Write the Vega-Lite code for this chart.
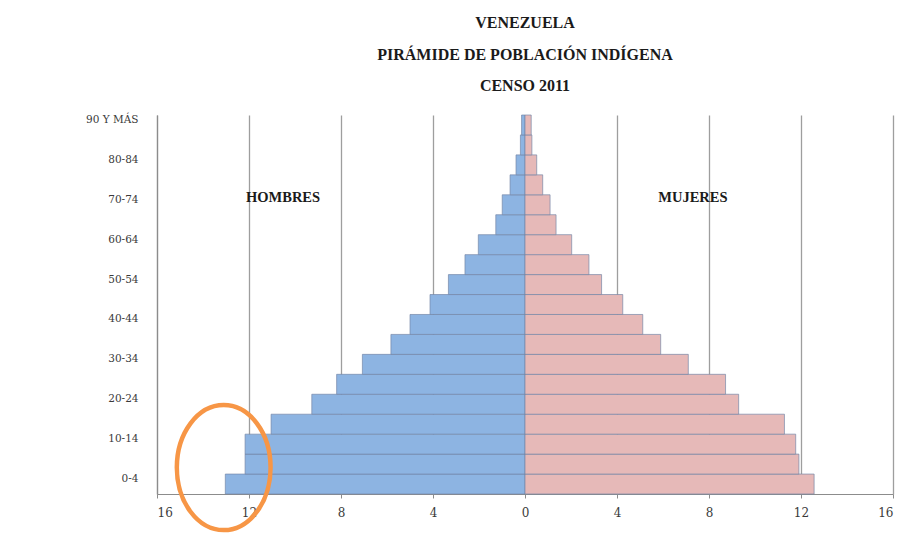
{
  "$schema": "https://vega.github.io/schema/vega-lite/v6.json",
  "autosize": {"type": "none"},
  "width": 736,
  "height": 379,
  "padding": {"left": 157, "top": 115, "right": 24, "bottom": 61},
  "background": "white",
  "title": {
    "text": ["VENEZUELA", "PIRÁMIDE DE POBLACIÓN INDÍGENA", "CENSO 2011"],
    "font": "Liberation Serif",
    "fontSize": 16,
    "fontWeight": "bold",
    "color": "#1a1a1a",
    "lineHeight": 31.5,
    "anchor": "middle",
    "offset": 20
  },
  "datasets": {
    "pop": [
      {"edad": "0-4", "sexo": "Hombres", "pct": -13.03},
      {"edad": "5-9", "sexo": "Hombres", "pct": -12.17},
      {"edad": "10-14", "sexo": "Hombres", "pct": -12.17},
      {"edad": "15-19", "sexo": "Hombres", "pct": -11.04},
      {"edad": "20-24", "sexo": "Hombres", "pct": -9.27},
      {"edad": "25-29", "sexo": "Hombres", "pct": -8.19},
      {"edad": "30-34", "sexo": "Hombres", "pct": -7.07},
      {"edad": "35-39", "sexo": "Hombres", "pct": -5.83},
      {"edad": "40-44", "sexo": "Hombres", "pct": -5.0},
      {"edad": "45-49", "sexo": "Hombres", "pct": -4.13},
      {"edad": "50-54", "sexo": "Hombres", "pct": -3.33},
      {"edad": "55-59", "sexo": "Hombres", "pct": -2.61},
      {"edad": "60-64", "sexo": "Hombres", "pct": -2.03},
      {"edad": "65-69", "sexo": "Hombres", "pct": -1.27},
      {"edad": "70-74", "sexo": "Hombres", "pct": -0.99},
      {"edad": "75-79", "sexo": "Hombres", "pct": -0.65},
      {"edad": "80-84", "sexo": "Hombres", "pct": -0.39},
      {"edad": "85-89", "sexo": "Hombres", "pct": -0.2},
      {"edad": "90 Y MÁS", "sexo": "Hombres", "pct": -0.15},
      {"edad": "0-4", "sexo": "Mujeres", "pct": 12.57},
      {"edad": "5-9", "sexo": "Mujeres", "pct": 11.91},
      {"edad": "10-14", "sexo": "Mujeres", "pct": 11.77},
      {"edad": "15-19", "sexo": "Mujeres", "pct": 11.28},
      {"edad": "20-24", "sexo": "Mujeres", "pct": 9.29},
      {"edad": "25-29", "sexo": "Mujeres", "pct": 8.72},
      {"edad": "30-34", "sexo": "Mujeres", "pct": 7.1},
      {"edad": "35-39", "sexo": "Mujeres", "pct": 5.9},
      {"edad": "40-44", "sexo": "Mujeres", "pct": 5.12},
      {"edad": "45-49", "sexo": "Mujeres", "pct": 4.25},
      {"edad": "50-54", "sexo": "Mujeres", "pct": 3.33},
      {"edad": "55-59", "sexo": "Mujeres", "pct": 2.78},
      {"edad": "60-64", "sexo": "Mujeres", "pct": 2.03},
      {"edad": "65-69", "sexo": "Mujeres", "pct": 1.35},
      {"edad": "70-74", "sexo": "Mujeres", "pct": 1.09},
      {"edad": "75-79", "sexo": "Mujeres", "pct": 0.77},
      {"edad": "80-84", "sexo": "Mujeres", "pct": 0.51},
      {"edad": "85-89", "sexo": "Mujeres", "pct": 0.3},
      {"edad": "90 Y MÁS", "sexo": "Mujeres", "pct": 0.27}
    ],
    "etiquetas": [
      {"texto": "HOMBRES", "x": -10.52, "edad": "70-74"},
      {"texto": "MUJERES", "x": 7.3, "edad": "70-74"}
    ],
    "marca": [
      {"x": -13.1, "edad": "5-9"}
    ]
  },
  "config": {
    "view": {"stroke": null},
    "axis": {"labelFont": "DejaVu Serif", "titleFont": "DejaVu Serif"}
  },
  "layer": [
    {
      "data": {"name": "pop"},
      "mark": {"type": "bar", "stroke": "#7485a6", "strokeWidth": 0.8, "strokeOpacity": 0.85},
      "encoding": {
        "y": {
          "field": "edad",
          "type": "nominal",
          "scale": {
            "domain": ["90 Y MÁS", "85-89", "80-84", "75-79", "70-74", "65-69", "60-64", "55-59", "50-54", "45-49", "40-44", "35-39", "30-34", "25-29", "20-24", "15-19", "10-14", "5-9", "0-4"],
            "paddingInner": 0,
            "paddingOuter": 0
          },
          "axis": {
            "title": null,
            "values": ["0-4", "10-14", "20-24", "30-34", "40-44", "50-54", "60-64", "70-74", "80-84", "90 Y MÁS"],
            "ticks": false,
            "domain": true,
            "domainColor": "#8c8c8c",
            "domainWidth": 1.2,
            "labelFontSize": 10.5,
            "labelColor": "#3a3a3a",
            "labelPadding": 19,
            "labelOffset": -5
          }
        },
        "x": {
          "field": "pct",
          "type": "quantitative",
          "scale": {"domain": [-16, 16], "nice": false},
          "axis": {
            "title": null,
            "values": [-16, -12, -8, -4, 0, 4, 8, 12, 16],
            "labelExpr": "abs(datum.value)",
            "grid": true,
            "gridColor": "#9e9e9e",
            "gridWidth": 1.3,
            "domainColor": "#8c8c8c",
            "domainWidth": 1.2,
            "tickColor": "#8c8c8c",
            "tickSize": 4,
            "labelFontSize": 12,
            "labelColor": "#3a3a3a",
            "labelPadding": 9
          }
        },
        "color": {
          "field": "sexo",
          "type": "nominal",
          "scale": {"domain": ["Hombres", "Mujeres"], "range": ["#8db4e2", "#e6b9b8"]},
          "legend": null
        }
      }
    },
    {
      "data": {"name": "etiquetas"},
      "mark": {"type": "text", "font": "Liberation Serif", "fontWeight": "bold", "fontSize": 14.5, "color": "#1a1a1a", "dy": -7},
      "encoding": {
        "x": {"field": "x", "type": "quantitative"},
        "y": {"field": "edad", "type": "nominal"},
        "text": {"field": "texto"}
      }
    },
    {
      "data": {"name": "marca"},
      "mark": {
        "type": "point",
        "shape": "M -0.75 0 A 0.75 1 0 1 0 0.75 0 A 0.75 1 0 1 0 -0.75 0 Z",
        "filled": false,
        "stroke": "#f79646",
        "strokeWidth": 4.5,
        "opacity": 1,
        "size": 15625,
        "yOffset": 3.5
      },
      "encoding": {
        "x": {"field": "x", "type": "quantitative"},
        "y": {"field": "edad", "type": "nominal"}
      }
    }
  ]
}
